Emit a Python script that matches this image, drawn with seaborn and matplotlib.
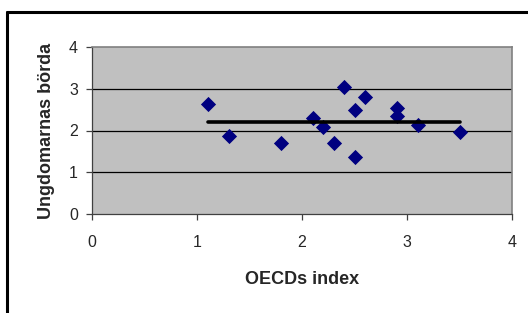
import matplotlib
matplotlib.use("Agg")
import matplotlib.pyplot as plt
from matplotlib.lines import Line2D
import pandas as pd
import seaborn as sns

# Data
oecd_index = [1.1, 1.3, 1.8, 2.1, 2.2, 2.3, 2.4, 2.5, 2.5, 2.6, 2.9, 2.9, 3.1, 3.5]
burden = [2.63, 1.88, 1.70, 2.30, 2.08, 1.70, 3.04, 2.50, 1.37, 2.80, 2.55, 2.34, 2.12, 1.96]
trend_x = [1.1, 3.5]
trend_y = [2.2, 2.2]
ticks = [0, 1, 2, 3, 4]

df = pd.DataFrame({"OECDs index": oecd_index, "Ungdomarnas börda": burden})

sns.set_style("white")
plt.rcParams["font.family"] = ["Liberation Sans", "DejaVu Sans"]

fig = plt.figure(figsize=(5.28, 3.13), dpi=100)
ax = fig.add_axes([92 / 528, 99 / 313, 420 / 528, 167 / 313])
ax.set_facecolor("#c0c0c0")

# gridlines
for t in ticks[1:-1]:
    ax.axhline(t, color="black", lw=0.9, zorder=1)

sns.scatterplot(data=df, x="OECDs index", y="Ungdomarnas börda", marker="D",
                color="#000080", s=60, edgecolor="#000080", linewidth=0,
                ax=ax, zorder=3)
sns.lineplot(x=trend_x, y=trend_y, color="black", lw=2.6, ax=ax, zorder=4)

ax.set_xlim(0, 4)
ax.set_ylim(0, 4)
ax.set_xticks(ticks)
ax.set_yticks(ticks)
ax.tick_params(axis="both", direction="out", length=4, width=0.9, color="#404040",
               labelsize=11.5, left=True, bottom=True)
ax.tick_params(axis="x", pad=11)
ax.tick_params(axis="y", pad=6)

for side in ["top", "right"]:
    ax.spines[side].set_color("#808080")
    ax.spines[side].set_linewidth(1.2)
for side in ["left", "bottom"]:
    ax.spines[side].set_color("#404040")
    ax.spines[side].set_linewidth(0.9)

ax.set_xlabel("OECDs index", fontsize=13, fontweight="bold", labelpad=15)
ax.set_ylabel("Ungdomarnas börda", fontsize=13, fontweight="bold", labelpad=10)

# outer chart frame (top and left edges visible)
fig.add_artist(Line2D([7 / 528, 1], [1 - 12 / 313, 1 - 12 / 313],
                      transform=fig.transFigure, color="black", lw=2.2))
fig.add_artist(Line2D([7 / 528, 7 / 528], [0, 1 - 12 / 313],
                      transform=fig.transFigure, color="black", lw=2.2))

fig.savefig("out.png", dpi=100)
